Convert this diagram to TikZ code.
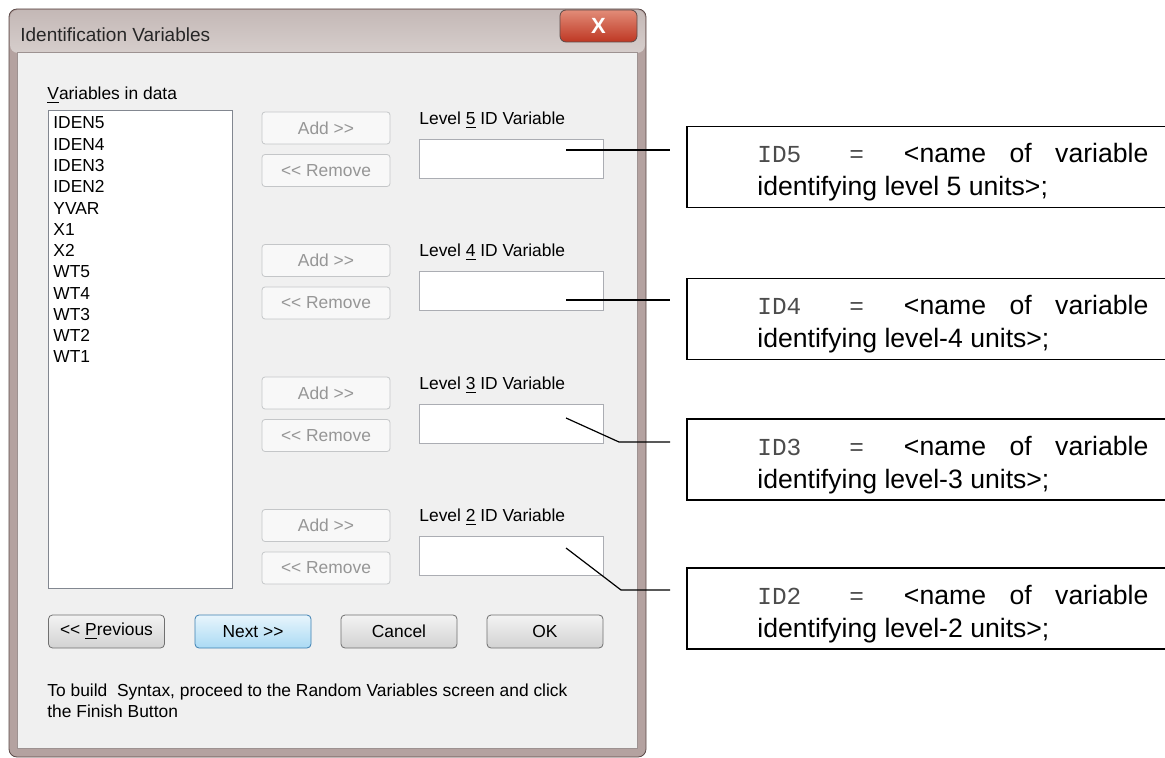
\documentclass[tikz,border=0pt]{standalone}
\usepackage{fontspec}
\setmainfont{Liberation Sans}
\setmonofont{Liberation Mono}
\usetikzlibrary{positioning}

\definecolor{dlgface}{RGB}{240,240,240}
\definecolor{framefill}{RGB}{180,162,160}
\definecolor{frameline}{RGB}{92,74,72}
\definecolor{titletop}{RGB}{196,184,182}
\definecolor{titlebot}{RGB}{214,206,204}
\definecolor{offtext}{RGB}{150,150,150}
\definecolor{offline}{RGB}{196,198,200}
\definecolor{editline}{RGB}{171,173,179}
\definecolor{listline}{RGB}{130,135,144}
\definecolor{btnline}{RGB}{112,112,112}
\definecolor{btntop}{RGB}{243,243,243}
\definecolor{btnbot}{RGB}{210,210,210}
\definecolor{nextline}{RGB}{60,127,177}
\definecolor{nexttop}{RGB}{232,245,252}
\definecolor{nextbot}{RGB}{170,218,244}
\definecolor{closetop}{RGB}{226,140,120}
\definecolor{closebot}{RGB}{190,55,35}

% two lines of a callout: first one spread over the full width
\newcommand\idtext[2]{\parbox[t]{195.5pt}{%
  \hbox to 195.5pt{{\fontsize{12.2}{12}\selectfont\color{black!70}\texttt{ID#1}\hspace{24pt}\texttt{=}}\hspace{20pt}<name\hfill of\hfill variable}%
  \hbox{identifying #2 units>;}}}

\tikzset{
  dlgtext/.style={font=\fontsize{8.7}{10.5}\selectfont, inner sep=0pt},
  offbtn/.style={dlgtext, draw=offline, fill=dlgface!50!white, rounded corners=1.5pt, minimum width=64pt, minimum height=16pt, text=offtext},
  editbox/.style={draw=editline, fill=white, minimum width=92pt, minimum height=19.5pt, inner sep=0pt},
  cmdbtn/.style={dlgtext, draw=btnline, top color=btntop, bottom color=btnbot, rounded corners=2pt, minimum width=58pt, minimum height=16.5pt},
  nextbtn/.style={cmdbtn, draw=nextline, top color=nexttop, bottom color=nextbot},
  callbox/.style={draw, line width=0.75pt, minimum width=242pt, minimum height=40.5pt, inner sep=0pt, anchor=north west},
  calltext/.style={font=\fontsize{13.3}{16.5}\selectfont, inner sep=0pt, anchor=base west},
  leader/.style={line width=0.6pt}
}

\begin{document}
\begin{tikzpicture}[x=0.5pt,y=-0.5pt]
	\useasboundingbox (0,0) rectangle (1165,758);
	\fill[white] (0,0) rectangle (1165,758);

	% window frame and client area
	\fill[framefill, rounded corners=4pt] (9,9) rectangle (646,757);
	\shade[top color=titletop, bottom color=titlebot, rounded corners=4pt] (10,10) rectangle (645,53);
	\draw[frameline, rounded corners=4pt] (9,9) rectangle (646,757);
	\fill[dlgface] (18,53) rectangle (637,748);
	\draw[frameline!60, line width=0.5pt] (17.5,52.5) rectangle (637.5,748.5);

	\node[draw=frameline, top color=closetop, bottom color=closebot, rounded corners=3pt, minimum width=38.5pt, minimum height=16pt, inner sep=0pt, text=white, font=\bfseries\fontsize{11}{11}\selectfont] (close) at (598.5,26) {X};
	\node[font=\fontsize{9.5}{11}\selectfont, inner sep=0pt, anchor=west, text=black!85] (title) at (20,35) {Identification Variables};

	% variable list
	\node[dlgtext, anchor=west] (varlabel) at (47,95) {\underline{V}ariables in data};
	\node[draw=listline, fill=white, minimum width=92pt, minimum height=239pt, anchor=north west, inner sep=0pt] (varlist) at (48,110) {};
	\foreach \v [count=\i from 0] in {IDEN5,IDEN4,IDEN3,IDEN2,YVAR,X1,X2,WT5,WT4,WT3,WT2,WT1}
		\node[dlgtext, anchor=west] (item\i) at (53,{123+21.27*\i}) {\v};

	% one block per level
	\foreach \lv [count=\k from 0] in {5,4,3,2} {
		\node[offbtn] (add\lv) at (326,{128+132.5*\k}) {Add >{}>};
		\node[offbtn] (rem\lv) at (326,{170.5+132.5*\k}) {<{}< Remove};
		\node[dlgtext, anchor=west] (lab\lv) at (419,{120+132.5*\k}) {Level \underline{\lv} ID Variable};
		\node[editbox] (edit\lv) at (511,{158.5+132.5*\k}) {};
	}

	% callouts
	\node[callbox] (box5) at (686,126) {};
	\node[callbox] (box4) at (686,278) {};
	\node[callbox] (box3) at (686,418) {};
	\node[callbox] (box2) at (686,567) {};
	\node[calltext] (txt5) at (757,163) {\idtext{5}{level 5}};
	\node[calltext] (txt4) at (757,315) {\idtext{4}{level-4}};
	\node[calltext] (txt3) at (757,455) {\idtext{3}{level-3}};
	\node[calltext] (txt2) at (757,604) {\idtext{2}{level-2}};

	\coordinate (tip5) at (566,150);
	\coordinate (end5) at (670,150);
	\coordinate (tip4) at (566,300);
	\coordinate (end4) at (670,300);
	\coordinate (tip3) at (566,418);
	\coordinate (knee3) at (619,442);
	\coordinate (end3) at (670,442);
	\coordinate (tip2) at (566,548);
	\coordinate (knee2) at (621,590);
	\coordinate (end2) at (670,590);
	\draw[leader] (tip5) -- (end5);
	\draw[leader] (tip4) -- (end4);
	\draw[leader] (tip3) -- (knee3) -- (end3);
	\draw[leader] (tip2) -- (knee2) -- (end2);

	% command buttons and hint
	\node[cmdbtn] (prev) at (106.5,631.5) {<{}< \underline{P}revious};
	\node[nextbtn] (next) at (253,631.5) {Next >{}>};
	\node[cmdbtn] (cancel) at (399,631.5) {Cancel};
	\node[cmdbtn] (ok) at (545,631.5) {OK};
	\node[dlgtext, anchor=north west, align=left] (hint) at (47,683) {To build~ Syntax, proceed to the Random Variables screen and click\\the Finish Button};
\end{tikzpicture}
\end{document}
